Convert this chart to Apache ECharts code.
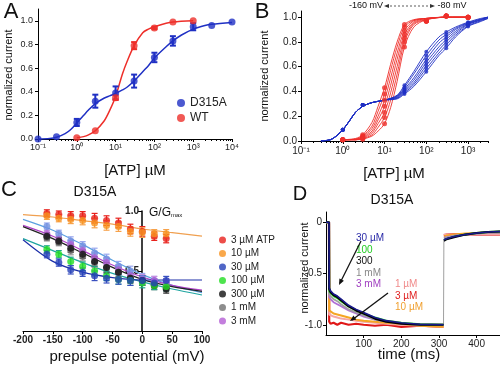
<!DOCTYPE html>
<html><head><meta charset="utf-8">
<script src="https://cdn.jsdelivr.net/npm/echarts@6/dist/echarts.min.js"></script>
<style>html,body{margin:0;padding:0;background:#fff}#c{width:500px;height:366px}</style>
</head><body><div id="c"></div>
<script>
// ---------- Panel A ----------
const concA_D315A = [0.1, 0.3, 1, 3, 10, 30, 100, 300, 1000, 3000, 10000];
const valA_D315A  = [0.0, 0.02, 0.14, 0.32, 0.39, 0.49, 0.69, 0.83, 0.95, 0.96, 0.99];
const errA_D315A  = [0, 0, 0.03, 0.055, 0.055, 0.055, 0.04, 0.04, 0.03, 0, 0];
const concA_WT = [1, 3, 10, 30, 100, 300, 1000];
const valA_WT  = [0.01, 0.07, 0.35, 0.79, 0.94, 0.99, 1.0];
const errA_WT  = [0, 0, 0.02, 0.03, 0.01, 0, 0];
const fitXA_D315A = [0.1, 0.2, 0.3, 0.5, 0.7, 1, 1.5, 2, 3, 5, 7, 10, 15, 20, 30, 50, 70, 100, 200, 300, 500, 1000, 2000, 3000, 10000];
const fitYA_D315A = [0.0, 0.005, 0.015, 0.045, 0.08, 0.135, 0.2, 0.245, 0.3, 0.345, 0.365, 0.385, 0.415, 0.44, 0.49, 0.57, 0.62, 0.685, 0.78, 0.83, 0.88, 0.93, 0.96, 0.97, 0.985];
const fitXA_WT = [1, 1.5, 2, 3, 5, 7, 10, 15, 20, 30, 50, 70, 100, 200, 300, 1000];
const fitYA_WT = [0.01, 0.02, 0.035, 0.07, 0.15, 0.24, 0.36, 0.55, 0.66, 0.79, 0.9, 0.93, 0.95, 0.98, 0.99, 1.0];
const decadesA = [-1, 0, 1, 2, 3, 4];
const yTicksA = [0, 0.2, 0.4, 0.6, 0.8, 1.0];

// ---------- Panel B ----------
const wtCurveXB = [1, 2, 3, 5, 7, 10, 14, 20, 30, 50, 100, 300, 1000];
const wtCurvesB = [
  [0.01, 0.02, 0.05, 0.15, 0.28, 0.43, 0.62, 0.80, 0.94, 0.98, 0.99, 1.0, 1.0],
  [0.01, 0.015, 0.04, 0.12, 0.24, 0.38, 0.57, 0.76, 0.92, 0.975, 0.99, 1.0, 1.0],
  [0.01, 0.015, 0.035, 0.10, 0.20, 0.33, 0.51, 0.71, 0.89, 0.97, 0.99, 1.0, 1.0],
  [0.01, 0.01, 0.03, 0.08, 0.17, 0.28, 0.45, 0.66, 0.86, 0.96, 0.99, 1.0, 1.0],
  [0.01, 0.01, 0.025, 0.065, 0.14, 0.23, 0.39, 0.60, 0.83, 0.95, 0.985, 1.0, 1.0],
  [0.01, 0.01, 0.02, 0.05, 0.11, 0.19, 0.33, 0.54, 0.80, 0.94, 0.98, 1.0, 1.0],
  [0.01, 0.01, 0.015, 0.04, 0.08, 0.14, 0.27, 0.48, 0.76, 0.92, 0.98, 1.0, 1.0]
];
const wtPtsXB = [1, 3, 10, 30, 100, 300, 1000];
const wtPtsB = [
  [0.01, 0.05, 0.43, 0.94, 0.97, 1.01, 1.0],
  [0.01, 0.04, 0.38, 0.92, 0.97, 1.01, 1.0],
  [0.01, 0.035, 0.33, 0.89, 0.97, 1.01, 1.0],
  [0.01, 0.03, 0.28, 0.86, 0.97, 1.01, 1.0],
  [0.01, 0.025, 0.23, 0.83, 0.97, 1.01, 1.0],
  [0.01, 0.02, 0.19, 0.80, 0.97, 1.01, 1.0],
  [0.01, 0.015, 0.14, 0.76, 0.97, 1.01, 1.0]
];
const mutCurveXB = [0.3, 0.5, 0.7, 1, 1.5, 2, 3, 5, 10, 20, 30, 50, 100, 200, 300, 500, 1000, 2000, 3000];
const mutCurvesB = [
  [0.0, 0.01, 0.04, 0.09, 0.17, 0.23, 0.28, 0.31, 0.33, 0.37, 0.45, 0.56, 0.72, 0.84, 0.88, 0.92, 0.96, 0.99, 1.0],
  [0.0, 0.01, 0.04, 0.09, 0.17, 0.23, 0.28, 0.31, 0.33, 0.365, 0.435, 0.54, 0.69, 0.815, 0.86, 0.91, 0.955, 0.985, 1.0],
  [0.0, 0.01, 0.04, 0.09, 0.17, 0.23, 0.28, 0.31, 0.33, 0.36, 0.42, 0.51, 0.66, 0.79, 0.84, 0.90, 0.95, 0.98, 1.0],
  [0.0, 0.01, 0.04, 0.09, 0.17, 0.23, 0.28, 0.31, 0.33, 0.355, 0.41, 0.49, 0.635, 0.76, 0.82, 0.885, 0.945, 0.98, 1.0],
  [0.0, 0.01, 0.04, 0.09, 0.17, 0.23, 0.28, 0.31, 0.33, 0.35, 0.40, 0.47, 0.61, 0.735, 0.80, 0.87, 0.94, 0.975, 0.995],
  [0.0, 0.01, 0.04, 0.09, 0.17, 0.23, 0.28, 0.31, 0.33, 0.345, 0.39, 0.455, 0.585, 0.71, 0.775, 0.855, 0.93, 0.97, 0.99],
  [0.0, 0.01, 0.04, 0.09, 0.17, 0.23, 0.28, 0.31, 0.33, 0.34, 0.38, 0.44, 0.56, 0.69, 0.75, 0.84, 0.925, 0.965, 0.99]
];
const mutPtsXB = [1, 3, 30, 100, 300, 1000];
const mutPtsB = [
  [0.09, 0.29, 0.45, 0.72, 0.88, 0.96],
  [0.09, 0.29, 0.435, 0.69, 0.86, 0.955],
  [0.09, 0.29, 0.42, 0.66, 0.84, 0.95],
  [0.09, 0.29, 0.41, 0.635, 0.82, 0.945],
  [0.09, 0.29, 0.40, 0.61, 0.80, 0.94],
  [0.09, 0.29, 0.39, 0.585, 0.775, 0.93],
  [0.09, 0.29, 0.38, 0.56, 0.75, 0.925]
];
const decadesB = [-1, 0, 1, 2, 3, 4];
const yTicksB = [0, 0.2, 0.4, 0.6, 0.8, 1.0];

// ---------- Panel C ----------
const vC = [-160, -140, -120, -100, -80, -60, -40, -20, 0, 20, 40];
const gC_3uM   = [0.98, 0.97, 0.96, 0.96, 0.94, 0.92, 0.90, 0.85, 0.83, 0.79, 0.77];
const gC_10uM  = [0.96, 0.94, 0.93, 0.92, 0.90, 0.88, 0.87, 0.83, 0.82, 0.81, 0.81];
const gC_lb    = [0.87, 0.81, 0.75, 0.71, 0.65, 0.60, 0.54, 0.50, 0.44, 0.42, 0.40];
const gC_3mM   = [0.81, 0.76, 0.72, 0.67, 0.61, 0.57, 0.51, 0.46, 0.43, 0.42, 0.40];
const gC_1mM   = [0.78, 0.74, 0.67, 0.62, 0.57, 0.53, 0.49, 0.44, 0.42, 0.39, 0.36];
const gC_300uM = [0.79, 0.75, 0.69, 0.64, 0.58, 0.53, 0.49, 0.44, 0.42, 0.38, 0.35];
const gC_100uM = [0.68, 0.64, 0.58, 0.54, 0.50, 0.46, 0.43, 0.42, 0.40, 0.38, 0.37];
const gC_30uM  = [0.64, 0.57, 0.51, 0.49, 0.46, 0.44, 0.43, 0.42, 0.42, 0.40, 0.42];
const eC = [0.03, 0.03, 0.035, 0.035, 0.04, 0.04, 0.04, 0.04, 0.04, 0.035, 0.035];
const fitVC = [-200, -150, -100, -50, 0, 50, 100];
const fitC_10uM  = [0.97, 0.95, 0.92, 0.89, 0.85, 0.82, 0.79];
const fitC_lb    = [0.93, 0.84, 0.72, 0.59, 0.47, 0.38, 0.32];
const fitC_3mM   = [0.88, 0.79, 0.67, 0.55, 0.45, 0.38, 0.34];
const fitC_300uM = [0.87, 0.77, 0.65, 0.53, 0.43, 0.37, 0.33];
const fitC_100uM = [0.77, 0.67, 0.57, 0.48, 0.41, 0.35, 0.30];
const fitC_30uM  = [0.76, 0.58, 0.49, 0.445, 0.425, 0.425, 0.425];
const legendC = ['3 µM ATP', '10 µM', '30 µM', '100 µM', '300 µM', '1 mM', '3 mM'];

// ---------- Panel D ----------
const tD = [0, 8, 8.5, 12, 20, 30, 40, 60, 80, 100, 130, 160, 200, 250, 312, 313, 320, 340, 370, 400, 430, 462];
const iD_30uM  = [0, 0, -0.64, -0.67, -0.70, -0.72, -0.75, -0.81, -0.85, -0.88, -0.93, -0.96, -0.98, -0.995, -1.0, -0.17, -0.16, -0.14, -0.12, -0.105, -0.095, -0.09];
const iD_100uM = [0, 0, -0.67, -0.69, -0.72, -0.74, -0.77, -0.82, -0.86, -0.89, -0.93, -0.96, -0.98, -0.995, -1.0, -0.175, -0.165, -0.14, -0.12, -0.105, -0.095, -0.09];
const iD_300uM = [0, 0, -0.65, -0.68, -0.71, -0.73, -0.76, -0.82, -0.86, -0.89, -0.94, -0.97, -0.99, -1.0, -1.0, -0.18, -0.165, -0.145, -0.12, -0.105, -0.095, -0.09];
const iD_1mM   = [0, 0, -0.70, -0.72, -0.75, -0.77, -0.80, -0.85, -0.88, -0.91, -0.95, -0.97, -0.99, -1.0, -1.0, -0.16, -0.15, -0.135, -0.12, -0.11, -0.10, -0.10];
const iD_3mM   = [0, 0, -0.73, -0.75, -0.78, -0.80, -0.82, -0.86, -0.89, -0.92, -0.95, -0.97, -0.99, -1.0, -1.0, -0.15, -0.145, -0.13, -0.12, -0.11, -0.10, -0.10];
const iD_1uM   = [0, 0, -0.90, -0.91, -0.92, -0.93, -0.94, -0.95, -0.96, -0.97, -0.98, -0.99, -1.0, -1.01, -1.02, -0.12, -0.12, -0.12, -0.12, -0.12, -0.12, -0.12];
const iD_10uM  = [0, 0, -0.86, -0.87, -0.89, -0.90, -0.91, -0.93, -0.95, -0.96, -0.97, -0.98, -0.99, -1.01, -1.02, -0.14, -0.13, -0.12, -0.11, -0.105, -0.10, -0.10];
const iD_3uM   = [0, 0, -0.97, -0.99, -0.98, -1.0, -0.98, -1.0, -0.99, -1.0, -1.01, -1.0, -1.02, -1.01, -1.02, -0.13, -0.12, -0.115, -0.115, -0.12, -0.12, -0.12];
const xTicksD = [100, 200, 300, 400];
const yTicksD = [-1.0, -0.5, 0];

// ---------- helpers ----------
const FONT = '"Liberation Sans", Arial, Helvetica, sans-serif';
const SUP = {'-':'\u207B','0':'\u2070','1':'\u00B9','2':'\u00B2','3':'\u00B3','4':'\u2074','5':'\u2075','6':'\u2076','7':'\u2077','8':'\u2078','9':'\u2079'};
function supLabel(v){ const n = Math.round(Math.log10(v)); if (Math.abs(Math.log10(v)-n) > 1e-6) return ''; return '10' + String(n).split('').map(c=>SUP[c]).join(''); }
function minorLogTicks(decs){ const out=[]; for (let i=0;i<decs.length-1;i++){ for (let m=2;m<=9;m++) out.push(decs[i]+Math.log10(m)); } return out; }
function pairs(xs, ys){ return xs.map((x,i)=>[x, ys[i]]); }
function errSeries(xs, ys, es, xi, yi, color, cap, w){
  return { type:'custom', xAxisIndex:xi, yAxisIndex:yi, silent:true, z:3,
    data: xs.map((x,i)=>[x, ys[i], es[i]]),
    renderItem:(p, api)=>{
      const x=api.value(0), y=api.value(1), e=api.value(2);
      if (!e) return null;
      const a=api.coord([x,y+e]), b=api.coord([x,y-e]);
      const st={stroke:color, lineWidth:w};
      return {type:'group', children:[
        {type:'line', shape:{x1:a[0],y1:a[1],x2:b[0],y2:b[1]}, style:st},
        {type:'line', shape:{x1:a[0]-cap,y1:a[1],x2:a[0]+cap,y2:a[1]}, style:st},
        {type:'line', shape:{x1:b[0]-cap,y1:b[1],x2:b[0]+cap,y2:b[1]}, style:st}
      ]};
    }};
}
const axLine = {show:true, onZero:false, lineStyle:{color:'#000', width:1}};
const lbl = (fs, extra) => Object.assign({fontSize:fs, color:'#222', fontFamily:FONT}, extra||{});

const BLUE='#1f30c4', RED='#ee2f2a';
const series = [];
// A
series.push({type:'line', name:'D315A fit', xAxisIndex:0, yAxisIndex:0, data:pairs(fitXA_D315A, fitYA_D315A), smooth:0.3, showSymbol:false, lineStyle:{color:BLUE, width:1.5}, z:2});
series.push({type:'line', name:'WT fit', xAxisIndex:0, yAxisIndex:0, data:pairs(fitXA_WT, fitYA_WT), smooth:0.3, showSymbol:false, lineStyle:{color:RED, width:1.5}, z:2});
series.push(errSeries(concA_D315A, valA_D315A, errA_D315A, 0, 0, BLUE, 3, 2));
series.push(errSeries(concA_WT, valA_WT, errA_WT, 0, 0, RED, 3, 2));
series.push({type:'scatter', name:'D315A', xAxisIndex:0, yAxisIndex:0, data:pairs(concA_D315A, valA_D315A), symbolSize:7, itemStyle:{color:BLUE}, z:4});
series.push({type:'scatter', name:'WT', xAxisIndex:0, yAxisIndex:0, data:pairs(concA_WT, valA_WT), symbolSize:7, itemStyle:{color:RED}, z:4});
// B
wtCurvesB.forEach((c,k)=>{
  series.push({type:'line', xAxisIndex:2, yAxisIndex:1, data:pairs(wtCurveXB, c), smooth:0.3, showSymbol:false, lineStyle:{color:RED, width:0.9}, z:2});
  series.push({type:'scatter', xAxisIndex:2, yAxisIndex:1, data:pairs(wtPtsXB, wtPtsB[k]), symbolSize:5, itemStyle:{color:RED}, z:4});
});
mutCurvesB.forEach((c,k)=>{
  series.push({type:'line', xAxisIndex:2, yAxisIndex:1, data:pairs(mutCurveXB, c), smooth:0.3, showSymbol:false, lineStyle:{color:BLUE, width:0.9}, z:2});
  series.push({type:'scatter', xAxisIndex:2, yAxisIndex:1, data:pairs(mutPtsXB, mutPtsB[k]), symbolSize:4, itemStyle:{color:BLUE}, z:4});
});
// C
const cSet = [
  {name:'3 µM ATP', y:gC_3uM, c:'#e8211c', e:'#e8211c'},
  {name:'10 µM', y:gC_10uM, c:'#f7921e', e:'#f7a24a'},
  {name:'lb', y:gC_lb, c:'#6e8fe0', e:'#9aa8ee'},
  {name:'3 mM', y:gC_3mM, c:'#b45ed4', e:'#c98ee0'},
  {name:'1 mM', y:gC_1mM, c:'#707070', e:'#9a9a9a'},
  {name:'300 µM', y:gC_300uM, c:'#111111', e:'#444'},
  {name:'100 µM', y:gC_100uM, c:'#22dd22', e:'#1fa58a'},
  {name:'30 µM', y:gC_30uM, c:'#2440b8', e:'#3a50c0'}
];
const cFits = [
  {y:fitC_10uM, c:'#f0a050'}, {y:fitC_lb, c:'#5aa0e0'}, {y:fitC_3mM, c:'#b040c8'},
  {y:fitC_300uM, c:'#222'}, {y:fitC_100uM, c:'#1fa5a0'}, {y:fitC_30uM, c:'#1d2fa8'}
];
cFits.forEach(f=>series.push({type:'line', xAxisIndex:4, yAxisIndex:2, data:pairs(fitVC, f.y), smooth:0.3, showSymbol:false, lineStyle:{color:f.c, width:1.2}, z:2}));
cSet.forEach(s=>{
  series.push(errSeries(vC, s.y, eC, 4, 2, s.e, 3, 1.2));
  series.push({type:'scatter', name:s.name, xAxisIndex:4, yAxisIndex:2, data:pairs(vC, s.y), symbolSize:7, itemStyle:{color:s.c}, z:4});
});
// D : pulse part and tail part drawn separately, with a thin connector
const PULSE_END = 15;
const dSet = [
  {y:iD_3uM, c:'#e01818', w:2.2}, {y:iD_1uM, c:'#f4a6a6', w:2}, {y:iD_10uM, c:'#f5a623', w:2},
  {y:iD_3mM, c:'#b070d8', w:1.8}, {y:iD_1mM, c:'#a0a0a0', w:1.8}, {y:iD_100uM, c:'#33dd33', w:2},
  {y:iD_300uM, c:'#000000', w:2.2}, {y:iD_30uM, c:'#1a1a8c', w:1.6}
];
const dPairs = s => pairs(tD, s.y);
dSet.forEach(s=>{
  const p = dPairs(s);
  series.push({type:'line', xAxisIndex:5, yAxisIndex:3, data:p.slice(0, PULSE_END), showSymbol:false, lineStyle:{color:s.c, width:s.w}, z:2});
  series.push({type:'line', xAxisIndex:5, yAxisIndex:3, data:p.slice(PULSE_END), showSymbol:false, lineStyle:{color:s.c, width:s.w}, z:2});
});
series.push({type:'line', xAxisIndex:5, yAxisIndex:3, data:pairs(tD, iD_300uM).slice(PULSE_END-1, PULSE_END+1), showSymbol:false, lineStyle:{color:'#888', width:0.8}, z:1});

const txt = (x, y, text, fs, extra) => ({type:'text', x, y, z:50, style:Object.assign({text, fontSize:fs, fontFamily:FONT, fill:'#111', align:'center', verticalAlign:'middle'}, extra||{})});
const graphic = [
  txt(11, 12, 'A', 22), txt(262, 12, 'B', 22), txt(9, 190, 'C', 22), txt(300, 194, 'D', 20),
  Object.assign(txt(9, 75, 'normalized current', 11), {rotation:Math.PI/2}),
  txt(135, 171, '[ATP] µM', 15),
  Object.assign(txt(265, 76, 'normalized current', 11), {rotation:Math.PI/2}),
  txt(394, 174, '[ATP] µM', 15),
  txt(366, 6, '-160 mV', 9), txt(452, 6, '-80 mV', 9),
  {type:'line', shape:{x1:386, y1:6, x2:433, y2:6}, style:{stroke:'#333', lineWidth:0.8, lineDash:[2,2]}},
  {type:'polygon', shape:{points:[[384,6],[389,4],[389,8]]}, style:{fill:'#333'}},
  {type:'polygon', shape:{points:[[435,6],[430,4],[430,8]]}, style:{fill:'#333'}},
  txt(95, 192, 'D315A', 14),
  {type:'text', x:149, y:213, z:50, style:{text:'{a|G/G}{b|max}', rich:{a:{fontSize:12, fontFamily:FONT, fill:'#111'}, b:{fontSize:6, fontFamily:FONT, fill:'#111', padding:[5,0,0,0]}}, verticalAlign:'middle', align:'left'}},
  txt(127, 357, 'prepulse potential (mV)', 15),
  txt(392, 200, 'D315A', 14),
  Object.assign(txt(305, 268, 'normalized current', 11), {rotation:Math.PI/2}),
  txt(409, 355, 'time (ms)', 15),
  txt(356, 238, '30 µM', 10, {fill:'#2a2aa8', align:'left'}),
  txt(356, 250, '100', 10, {fill:'#22cc22', align:'left'}),
  txt(356, 261, '300', 10, {fill:'#111', align:'left'}),
  txt(356, 273, '1 mM', 10, {fill:'#888', align:'left'}),
  txt(356, 284, '3 mM', 10, {fill:'#a040c0', align:'left'}),
  txt(395, 284, '1 µM', 10, {fill:'#f08a8a', align:'left'}),
  txt(395, 296, '3 µM', 10, {fill:'#e02020', align:'left'}),
  txt(395, 307, '10 µM', 10, {fill:'#f0a030', align:'left'}),
  {type:'line', z:50, shape:{x1:361, y1:241, x2:340, y2:283}, style:{stroke:'#111', lineWidth:1.3}},
  {type:'polygon', z:50, shape:{points:[[339,285],[343.9,280.7],[339.4,278.5]]}, style:{fill:'#111'}},
  {type:'line', z:50, shape:{x1:388, y1:293, x2:352, y2:320}, style:{stroke:'#111', lineWidth:1.3}},
  {type:'polygon', z:50, shape:{points:[[350,321],[356.3,319.4],[353.4,315.4]]}, style:{fill:'#111'}}
];

const option = {
  animation:false,
  textStyle:{fontFamily:FONT},
  grid:[
    {left:38, top:9, width:194, height:130},
    {left:301, top:11, width:187, height:130},
    {left:23, top:211, width:179, height:120},
    {left:326, top:212, width:174, height:123}
  ],
  xAxis:[
    {type:'log', gridIndex:0, min:0.1, max:10000, logBase:10, axisLine:axLine, axisTick:{length:3, lineStyle:{color:'#000'}}, axisLabel:lbl(9,{margin:4, formatter:supLabel}), splitLine:{show:false}},
    {type:'value', gridIndex:0, position:'bottom', min:-1, max:4, axisLine:{show:false}, axisLabel:{show:false}, axisTick:{show:true, length:2, customValues:minorLogTicks(decadesA), lineStyle:{color:'#000'}}, splitLine:{show:false}},
    {type:'log', gridIndex:1, min:0.1, max:3000, logBase:10, axisLine:axLine, axisTick:{length:3, lineStyle:{color:'#000'}}, axisLabel:lbl(10,{margin:5, formatter:supLabel, showMaxLabel:false}), splitLine:{show:false}},
    {type:'value', gridIndex:1, position:'bottom', min:-1, max:Math.log10(3000), axisLine:{show:false}, axisLabel:{show:false}, axisTick:{show:true, length:2, customValues:minorLogTicks(decadesB).filter(v=>v<=Math.log10(3000)), lineStyle:{color:'#000'}}, splitLine:{show:false}},
    {type:'value', gridIndex:2, min:-200, max:100, interval:50, axisLine:{show:true, onZero:false, lineStyle:{color:'#000'}}, axisTick:{length:3, lineStyle:{color:'#000'}}, axisLabel:lbl(10,{margin:4, fontWeight:'bold'}), splitLine:{show:false}},
    {type:'value', gridIndex:3, min:0, max:462, axisLine:axLine, axisTick:{length:3, customValues:xTicksD, lineStyle:{color:'#000'}}, axisLabel:lbl(10,{margin:4, customValues:xTicksD}), splitLine:{show:false}}
  ],
  yAxis:[
    {type:'value', gridIndex:0, min:0, max:1.1, axisLine:axLine, axisTick:{length:3, customValues:yTicksA, lineStyle:{color:'#000'}}, axisLabel:lbl(9,{margin:5, customValues:yTicksA, formatter:v=>v.toFixed(1)}), splitLine:{show:false}},
    {type:'value', gridIndex:1, min:0, max:1.05, axisLine:axLine, axisTick:{length:3, customValues:yTicksB, lineStyle:{color:'#000'}}, axisLabel:lbl(10,{margin:4, customValues:yTicksB, formatter:v=>v.toFixed(1)}), splitLine:{show:false}},
    {type:'value', gridIndex:2, position:'left', offset:-119, min:0, max:1, interval:0.5, axisLine:{show:true, onZero:false, lineStyle:{color:'#000', width:1.5}}, axisTick:{length:4, lineStyle:{color:'#000'}}, axisLabel:lbl(10,{margin:3, fontWeight:'bold', formatter:v=>v===0?'':v.toFixed(1)}), splitLine:{show:false}, z:1},
    {type:'value', gridIndex:3, min:-1.1, max:0.1, axisLine:axLine, axisTick:{length:3, customValues:yTicksD, lineStyle:{color:'#000'}}, axisLabel:lbl(10,{margin:4, customValues:yTicksD, formatter:v=>v===0?'0':v.toFixed(1)}), splitLine:{show:false}}
  ],
  legend:[
    {data:['D315A','WT'], left:172, top:92, orient:'vertical', icon:'circle', itemWidth:8, itemHeight:8, itemGap:3, textStyle:{fontSize:12, color:'#222', fontFamily:FONT}, selectedMode:false},
    {data:legendC, left:214, top:230, orient:'vertical', icon:'circle', itemWidth:7, itemHeight:7, itemGap:3.5, textStyle:{fontSize:10, color:'#222', fontFamily:FONT}, selectedMode:false}
  ],
  series,
  graphic
};
echarts.init(document.getElementById('c'), null, {renderer:'canvas'}).setOption(option);
</script></body></html>
